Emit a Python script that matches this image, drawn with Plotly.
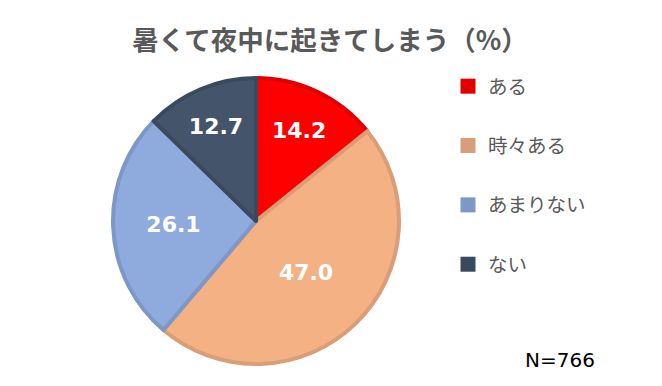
import plotly.graph_objects as go

categories = ["ある", "時々ある", "あまりない", "ない"]
values = [14.2, 47.0, 26.1, 12.7]
fill_colors = ["#FF0000", "#F4B183", "#8FAADC", "#44546A"]
line_colors = ["#E00000", "#D99D78", "#7E97C6", "#3A4A5E"]
title_text = "暑くて夜中に起きてしまう（%）"
note_text = "N=766"

W, H = 662, 386
cx, cy, r = 256, 221, 143

fig = go.Figure()
fig.add_trace(go.Pie(
    labels=categories, values=values, sort=False, direction="clockwise", rotation=0,
    marker=dict(colors=fill_colors, line=dict(color=line_colors, width=4)),
    texttemplate="%{value:.1f}", textposition="inside", insidetextorientation="horizontal",
    textfont=dict(family="DejaVu Sans", size=22, color="white", weight="bold"),
    showlegend=False, hoverinfo="label+value",
    domain=dict(x=[(cx - r) / W, (cx + r) / W], y=[(H - cy - r) / H, (H - cy + r) / H]),
))
for i, (cat, col) in enumerate(zip(categories, line_colors)):
    fig.add_trace(go.Scatter(
        x=[None], y=[None], mode="markers", name=cat, legendgroup=f"g{i}",
        marker=dict(symbol="square", size=15, color=col), showlegend=True,
    ))

fig.update_layout(
    width=W, height=H, margin=dict(l=0, r=0, t=0, b=0, autoexpand=False),
    paper_bgcolor="white", plot_bgcolor="white",
    xaxis=dict(visible=False), yaxis=dict(visible=False),
    title=dict(text=title_text, x=330 / W, xanchor="center", y=1 - 41 / H, yanchor="middle",
               font=dict(family="Noto Sans CJK JP", size=26.5, color="#595959", weight="bold")),
    legend=dict(x=448 / W, y=1 - 67 / H, xanchor="left", yanchor="top",
                font=dict(family="Noto Sans CJK JP", size=19.5, color="#595959"),
                tracegroupgap=31, itemwidth=30, bgcolor="rgba(0,0,0,0)"),
    annotations=[dict(text=note_text, x=560 / W, y=1 - 360 / H, xref="paper", yref="paper",
                      showarrow=False, xanchor="center", yanchor="middle",
                      font=dict(family="DejaVu Sans", size=20, color="#000000"))],
)
fig.write_html("out.html", config={"displayModeBar": False},
               post_script="document.body.style.margin='0';")
